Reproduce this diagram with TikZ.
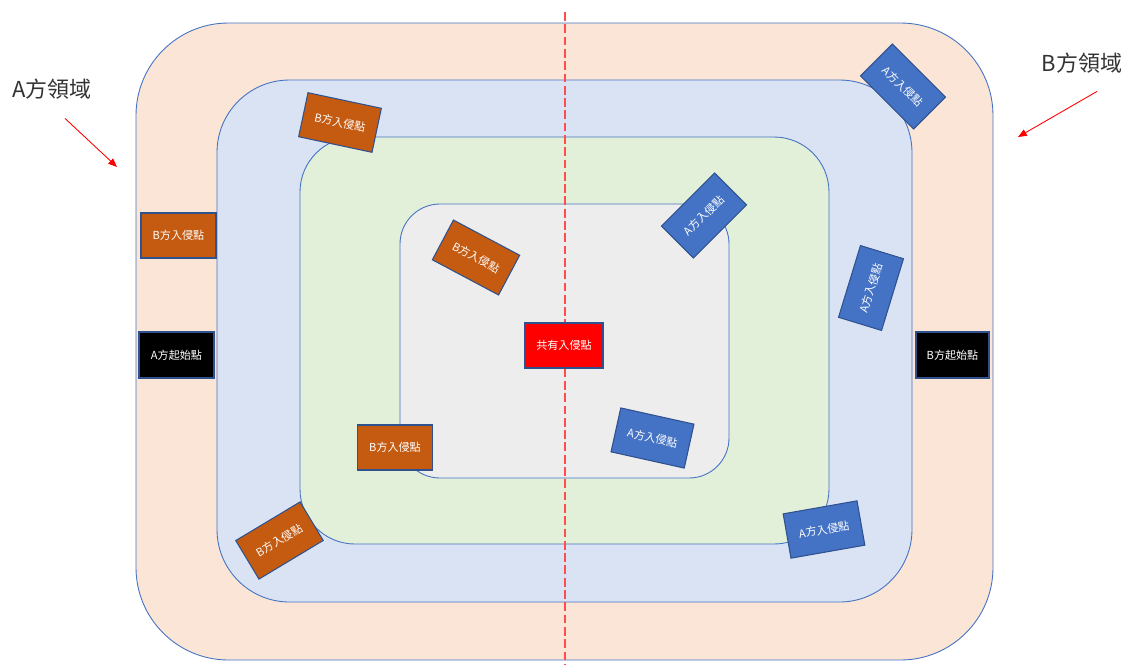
\documentclass[tikz,border=0pt]{standalone}
\usepackage{fontspec}
\setmainfont{Noto Sans CJK TC}
\usetikzlibrary{arrows.meta}

\definecolor{peach}{HTML}{FBE5D6}
\definecolor{paleblue}{HTML}{DAE3F3}
\definecolor{palegreen}{HTML}{E2F0D9}
\definecolor{palegray}{HTML}{EDEDED}
\definecolor{edgeblue}{HTML}{4472C4}
\definecolor{boxedge}{HTML}{2F528F}
\definecolor{borange}{HTML}{C55A11}
\definecolor{ablue}{HTML}{4472C4}

\begin{document}
\begin{tikzpicture}[x = 0.02cm, y = -0.02cm,
	zone/.style = {draw = edgeblue, line width = 0.5pt},
	point/.style = {draw = boxedge, line width = 0.6pt, text = white, minimum width = 1.5cm,
		minimum height = 0.9cm, inner sep = 0pt, font = \fontsize{6.3}{7}\selectfont},
	bpoint/.style = {point, fill = borange},
	apoint/.style = {point, fill = ablue},
	start/.style = {point, fill = black, minimum height = 0.92cm},
	side/.style = {font = \fontsize{12.5}{14}\selectfont, text = black!80},
	pointer/.style = {red, line width = 0.5pt, -{Triangle[length = 5pt, width = 4pt]}}]

\useasboundingbox (0, 0) rectangle (1133, 664);

% Zones

\draw [zone, fill = peach, rounded corners = 1.85cm] (136, 23) rectangle (993, 660);
\draw [zone, fill = paleblue, rounded corners = 1.45cm] (217, 80) rectangle (912, 602);
\draw [zone, fill = palegreen, rounded corners = 1.1cm] (300, 137) rectangle (829, 544);
\draw [zone, fill = palegray, rounded corners = 0.8cm] (400, 204) rectangle (729, 478);

% Dividing line

\coordinate (top) at (565, 12);
\coordinate (bottom) at (565, 664);
\draw [red!70, dash pattern = on 5pt off 2pt, line width = 0.6pt] (top) -- (bottom);

% Starting points

\node [start, minimum width = 1.5cm] (astart) at (176.5, 355) {A方起始點};
\node [start, minimum width = 1.46cm] (bstart) at (952.5, 355) {B方起始點};
\node [point, fill = red, minimum width = 1.56cm] (shared) at (564, 345.5) {共有入侵點};

% B intrusion points

\node [bpoint] (b1) at (178.5, 235.5) {B方入侵點};
\node [bpoint, rotate = -12] (b2) at (340, 122.5) {B方入侵點};
\node [bpoint, rotate = -28] (b3) at (476, 257.5) {B方入侵點};
\node [bpoint] (b4) at (395, 447.5) {B方入侵點};
\node [bpoint, rotate = 31] (b5) at (279.5, 540.5) {B方入侵點};

% A intrusion points

\node [apoint, rotate = -45] (a1) at (903, 86.5) {A方入侵點};
\node [apoint, rotate = 45] (a2) at (704, 215.5) {A方入侵點};
\node [apoint, rotate = 73] (a3) at (871, 288) {A方入侵點};
\node [apoint, rotate = -12.5] (a4) at (652.5, 438) {A方入侵點};
\node [apoint, rotate = 10] (a5) at (824, 529.5) {A方入侵點};

% Side labels

\node [side] (aside) at (52, 89) {A方領域};
\node [side] (bside) at (1082, 63) {B方領域};

\coordinate (aend) at (117, 167);
\coordinate (bend) at (1018, 137);
\draw [pointer] (aside.south) ++(13, 13) -- (aend);
\draw [pointer] (bside.south) ++(15, 12) -- (bend);

\end{tikzpicture}
\end{document}
